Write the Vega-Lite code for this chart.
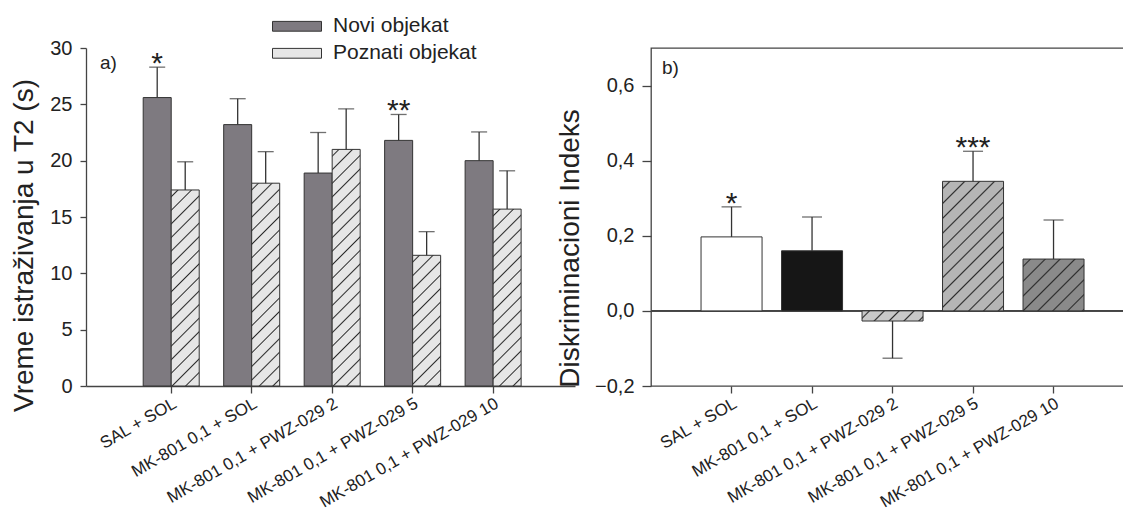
{
"$schema":"https://vega.github.io/schema/vega-lite/v6.json",
"autosize":"none",
"padding":{"left":86,"top":48,"right":1037,"bottom":467},
"bounds":"flush",
"spacing":76,
"config":{"font":"Liberation Sans","view":{"stroke":null},"axis":{"grid":false,"labelColor":"#222","titleColor":"#222","tickColor":"#444","domainColor":"#444","titleFontWeight":"normal","domainWidth":1.3,"tickWidth":1.3}},
"hconcat":[
{
"width":489,"height":338,
"view":{"stroke":null},
"title":{"text":"a)","anchor":"start","frame":"group","orient":"top","dx":14,"offset":-50,"fontSize":19,"fontWeight":"normal","color":"#222","baseline":"alphabetic"},
"data":{"values":[
{"grp":"SAL + SOL","obj":"Novi objekat","val":25.6,"err":28.3,"star":"*"},
{"grp":"SAL + SOL","obj":"Poznati objekat","val":17.4,"err":19.9,"star":""},
{"grp":"MK-801 0,1 + SOL","obj":"Novi objekat","val":23.2,"err":25.5,"star":""},
{"grp":"MK-801 0,1 + SOL","obj":"Poznati objekat","val":18.0,"err":20.8,"star":""},
{"grp":"MK-801 0,1 + PWZ-029 2","obj":"Novi objekat","val":18.9,"err":22.5,"star":""},
{"grp":"MK-801 0,1 + PWZ-029 2","obj":"Poznati objekat","val":21.0,"err":24.6,"star":""},
{"grp":"MK-801 0,1 + PWZ-029 5","obj":"Novi objekat","val":21.8,"err":24.1,"star":"**"},
{"grp":"MK-801 0,1 + PWZ-029 5","obj":"Poznati objekat","val":11.6,"err":13.7,"star":""},
{"grp":"MK-801 0,1 + PWZ-029 10","obj":"Novi objekat","val":20.0,"err":22.55,"star":""},
{"grp":"MK-801 0,1 + PWZ-029 10","obj":"Poznati objekat","val":15.7,"err":19.1,"star":""}
]},
"encoding":{
"x":{"field":"grp","type":"nominal","sort":null,"scale":{"domain":["SAL + SOL","MK-801 0,1 + SOL","MK-801 0,1 + PWZ-029 2","MK-801 0,1 + PWZ-029 5","MK-801 0,1 + PWZ-029 10"],"paddingInner":0.304,"paddingOuter":0.69,"align":0.515},"axis":{"title":null,"labelAngle":-30,"labelAlign":"right","labelBaseline":"top","labelFontSize":17,"labelLimit":400,"tickSize":7,"labelPadding":2}},
"xOffset":{"field":"obj","type":"nominal","scale":{"domain":["Novi objekat","Poznati objekat"]}},
"y":{"field":"val","type":"quantitative","scale":{"domain":[0,30],"nice":false},"axis":{"title":"Vreme istraživanja u T2 (s)","values":[0,5,10,15,20,25,30],"labelFontSize":20,"tickSize":6,"labelPadding":8,"titleFontSize":28,"titleX":-62,"titleY":197,"titleBaseline":"middle","titleAlign":"center","titleAngle":270}}
},
"layer":[
{"mark":{"type":"bar","stroke":"#333","strokeWidth":1},
"encoding":{"fill":{"field":"obj","type":"nominal","scale":{"domain":["Novi objekat","Poznati objekat"],"range":["#7e7a80","#e6e6e6"]},
"legend":{"title":null,"orient":"none","legendX":186,"legendY":-32.7,"direction":"vertical","symbolType":"M-1,-0.2L1,-0.2L1,0.2L-1,0.2Z","symbolSize":2401,"symbolStrokeColor":"#333","symbolStrokeWidth":1,"labelFontSize":21,"labelOffset":11,"labelColor":"#222","clipHeight":22,"rowPadding":5,"padding":0,
"encode":{"symbols":{"update":{"stroke":{"value":"#333"},"strokeWidth":{"value":1}}}}},
"condition":[
{"test":"datum.obj === 'Poznati objekat' && datum.grp === 'SAL + SOL'","value":{"gradient":"linear","x1":0,"y1":0,"x2":0.2036,"y2":1.4255,"stops":[
{"offset":0.0188,"color":"#e6e6e6"},{"offset":0.0238,"color":"#2b2b2b"},{"offset":0.0288,"color":"#e6e6e6"},
{"offset":0.0664,"color":"#e6e6e6"},{"offset":0.0714,"color":"#2b2b2b"},{"offset":0.0764,"color":"#e6e6e6"},
{"offset":0.114,"color":"#e6e6e6"},{"offset":0.119,"color":"#2b2b2b"},{"offset":0.124,"color":"#e6e6e6"},
{"offset":0.1617,"color":"#e6e6e6"},{"offset":0.1667,"color":"#2b2b2b"},{"offset":0.1717,"color":"#e6e6e6"},
{"offset":0.2093,"color":"#e6e6e6"},{"offset":0.2143,"color":"#2b2b2b"},{"offset":0.2193,"color":"#e6e6e6"},
{"offset":0.2569,"color":"#e6e6e6"},{"offset":0.2619,"color":"#2b2b2b"},{"offset":0.2669,"color":"#e6e6e6"},
{"offset":0.3045,"color":"#e6e6e6"},{"offset":0.3095,"color":"#2b2b2b"},{"offset":0.3145,"color":"#e6e6e6"},
{"offset":0.3521,"color":"#e6e6e6"},{"offset":0.3571,"color":"#2b2b2b"},{"offset":0.3621,"color":"#e6e6e6"},
{"offset":0.3998,"color":"#e6e6e6"},{"offset":0.4048,"color":"#2b2b2b"},{"offset":0.4098,"color":"#e6e6e6"},
{"offset":0.4474,"color":"#e6e6e6"},{"offset":0.4524,"color":"#2b2b2b"},{"offset":0.4574,"color":"#e6e6e6"},
{"offset":0.495,"color":"#e6e6e6"},{"offset":0.5,"color":"#2b2b2b"},{"offset":0.505,"color":"#e6e6e6"},
{"offset":0.5426,"color":"#e6e6e6"},{"offset":0.5476,"color":"#2b2b2b"},{"offset":0.5526,"color":"#e6e6e6"},
{"offset":0.5902,"color":"#e6e6e6"},{"offset":0.5952,"color":"#2b2b2b"},{"offset":0.6002,"color":"#e6e6e6"},
{"offset":0.6379,"color":"#e6e6e6"},{"offset":0.6429,"color":"#2b2b2b"},{"offset":0.6479,"color":"#e6e6e6"},
{"offset":0.6855,"color":"#e6e6e6"},{"offset":0.6905,"color":"#2b2b2b"},{"offset":0.6955,"color":"#e6e6e6"},
{"offset":0.7331,"color":"#e6e6e6"},{"offset":0.7381,"color":"#2b2b2b"},{"offset":0.7431,"color":"#e6e6e6"},
{"offset":0.7807,"color":"#e6e6e6"},{"offset":0.7857,"color":"#2b2b2b"},{"offset":0.7907,"color":"#e6e6e6"}]}},
{"test":"datum.obj === 'Poznati objekat' && datum.grp === 'MK-801 0,1 + SOL'","value":{"gradient":"linear","x1":0,"y1":0,"x2":0.1905,"y2":1.3795,"stops":[
{"offset":0.0188,"color":"#e6e6e6"},{"offset":0.0238,"color":"#2b2b2b"},{"offset":0.0288,"color":"#e6e6e6"},
{"offset":0.0664,"color":"#e6e6e6"},{"offset":0.0714,"color":"#2b2b2b"},{"offset":0.0764,"color":"#e6e6e6"},
{"offset":0.114,"color":"#e6e6e6"},{"offset":0.119,"color":"#2b2b2b"},{"offset":0.124,"color":"#e6e6e6"},
{"offset":0.1617,"color":"#e6e6e6"},{"offset":0.1667,"color":"#2b2b2b"},{"offset":0.1717,"color":"#e6e6e6"},
{"offset":0.2093,"color":"#e6e6e6"},{"offset":0.2143,"color":"#2b2b2b"},{"offset":0.2193,"color":"#e6e6e6"},
{"offset":0.2569,"color":"#e6e6e6"},{"offset":0.2619,"color":"#2b2b2b"},{"offset":0.2669,"color":"#e6e6e6"},
{"offset":0.3045,"color":"#e6e6e6"},{"offset":0.3095,"color":"#2b2b2b"},{"offset":0.3145,"color":"#e6e6e6"},
{"offset":0.3521,"color":"#e6e6e6"},{"offset":0.3571,"color":"#2b2b2b"},{"offset":0.3621,"color":"#e6e6e6"},
{"offset":0.3998,"color":"#e6e6e6"},{"offset":0.4048,"color":"#2b2b2b"},{"offset":0.4098,"color":"#e6e6e6"},
{"offset":0.4474,"color":"#e6e6e6"},{"offset":0.4524,"color":"#2b2b2b"},{"offset":0.4574,"color":"#e6e6e6"},
{"offset":0.495,"color":"#e6e6e6"},{"offset":0.5,"color":"#2b2b2b"},{"offset":0.505,"color":"#e6e6e6"},
{"offset":0.5426,"color":"#e6e6e6"},{"offset":0.5476,"color":"#2b2b2b"},{"offset":0.5526,"color":"#e6e6e6"},
{"offset":0.5902,"color":"#e6e6e6"},{"offset":0.5952,"color":"#2b2b2b"},{"offset":0.6002,"color":"#e6e6e6"},
{"offset":0.6379,"color":"#e6e6e6"},{"offset":0.6429,"color":"#2b2b2b"},{"offset":0.6479,"color":"#e6e6e6"},
{"offset":0.6855,"color":"#e6e6e6"},{"offset":0.6905,"color":"#2b2b2b"},{"offset":0.6955,"color":"#e6e6e6"},
{"offset":0.7331,"color":"#e6e6e6"},{"offset":0.7381,"color":"#2b2b2b"},{"offset":0.7431,"color":"#e6e6e6"},
{"offset":0.7807,"color":"#e6e6e6"},{"offset":0.7857,"color":"#2b2b2b"},{"offset":0.7907,"color":"#e6e6e6"}]}},
{"test":"datum.obj === 'Poznati objekat' && datum.grp === 'MK-801 0,1 + PWZ-029 2'","value":{"gradient":"linear","x1":0,"y1":0,"x2":0.1406,"y2":1.1884,"stops":[
{"offset":0.0188,"color":"#e6e6e6"},{"offset":0.0238,"color":"#2b2b2b"},{"offset":0.0288,"color":"#e6e6e6"},
{"offset":0.0664,"color":"#e6e6e6"},{"offset":0.0714,"color":"#2b2b2b"},{"offset":0.0764,"color":"#e6e6e6"},
{"offset":0.114,"color":"#e6e6e6"},{"offset":0.119,"color":"#2b2b2b"},{"offset":0.124,"color":"#e6e6e6"},
{"offset":0.1617,"color":"#e6e6e6"},{"offset":0.1667,"color":"#2b2b2b"},{"offset":0.1717,"color":"#e6e6e6"},
{"offset":0.2093,"color":"#e6e6e6"},{"offset":0.2143,"color":"#2b2b2b"},{"offset":0.2193,"color":"#e6e6e6"},
{"offset":0.2569,"color":"#e6e6e6"},{"offset":0.2619,"color":"#2b2b2b"},{"offset":0.2669,"color":"#e6e6e6"},
{"offset":0.3045,"color":"#e6e6e6"},{"offset":0.3095,"color":"#2b2b2b"},{"offset":0.3145,"color":"#e6e6e6"},
{"offset":0.3521,"color":"#e6e6e6"},{"offset":0.3571,"color":"#2b2b2b"},{"offset":0.3621,"color":"#e6e6e6"},
{"offset":0.3998,"color":"#e6e6e6"},{"offset":0.4048,"color":"#2b2b2b"},{"offset":0.4098,"color":"#e6e6e6"},
{"offset":0.4474,"color":"#e6e6e6"},{"offset":0.4524,"color":"#2b2b2b"},{"offset":0.4574,"color":"#e6e6e6"},
{"offset":0.495,"color":"#e6e6e6"},{"offset":0.5,"color":"#2b2b2b"},{"offset":0.505,"color":"#e6e6e6"},
{"offset":0.5426,"color":"#e6e6e6"},{"offset":0.5476,"color":"#2b2b2b"},{"offset":0.5526,"color":"#e6e6e6"},
{"offset":0.5902,"color":"#e6e6e6"},{"offset":0.5952,"color":"#2b2b2b"},{"offset":0.6002,"color":"#e6e6e6"},
{"offset":0.6379,"color":"#e6e6e6"},{"offset":0.6429,"color":"#2b2b2b"},{"offset":0.6479,"color":"#e6e6e6"},
{"offset":0.6855,"color":"#e6e6e6"},{"offset":0.6905,"color":"#2b2b2b"},{"offset":0.6955,"color":"#e6e6e6"},
{"offset":0.7331,"color":"#e6e6e6"},{"offset":0.7381,"color":"#2b2b2b"},{"offset":0.7431,"color":"#e6e6e6"},
{"offset":0.7807,"color":"#e6e6e6"},{"offset":0.7857,"color":"#2b2b2b"},{"offset":0.7907,"color":"#e6e6e6"},
{"offset":0.8283,"color":"#e6e6e6"},{"offset":0.8333,"color":"#2b2b2b"},{"offset":0.8383,"color":"#e6e6e6"},
{"offset":0.876,"color":"#e6e6e6"},{"offset":0.881,"color":"#2b2b2b"},{"offset":0.886,"color":"#e6e6e6"},
{"offset":0.9236,"color":"#e6e6e6"},{"offset":0.9286,"color":"#2b2b2b"},{"offset":0.9336,"color":"#e6e6e6"}]}},
{"test":"datum.obj === 'Poznati objekat' && datum.grp === 'MK-801 0,1 + PWZ-029 5'","value":{"gradient":"linear","x1":0,"y1":0,"x2":0.4468,"y2":2.0856,"stops":[
{"offset":0.0188,"color":"#e6e6e6"},{"offset":0.0238,"color":"#2b2b2b"},{"offset":0.0288,"color":"#e6e6e6"},
{"offset":0.0664,"color":"#e6e6e6"},{"offset":0.0714,"color":"#2b2b2b"},{"offset":0.0764,"color":"#e6e6e6"},
{"offset":0.114,"color":"#e6e6e6"},{"offset":0.119,"color":"#2b2b2b"},{"offset":0.124,"color":"#e6e6e6"},
{"offset":0.1617,"color":"#e6e6e6"},{"offset":0.1667,"color":"#2b2b2b"},{"offset":0.1717,"color":"#e6e6e6"},
{"offset":0.2093,"color":"#e6e6e6"},{"offset":0.2143,"color":"#2b2b2b"},{"offset":0.2193,"color":"#e6e6e6"},
{"offset":0.2569,"color":"#e6e6e6"},{"offset":0.2619,"color":"#2b2b2b"},{"offset":0.2669,"color":"#e6e6e6"},
{"offset":0.3045,"color":"#e6e6e6"},{"offset":0.3095,"color":"#2b2b2b"},{"offset":0.3145,"color":"#e6e6e6"},
{"offset":0.3521,"color":"#e6e6e6"},{"offset":0.3571,"color":"#2b2b2b"},{"offset":0.3621,"color":"#e6e6e6"},
{"offset":0.3998,"color":"#e6e6e6"},{"offset":0.4048,"color":"#2b2b2b"},{"offset":0.4098,"color":"#e6e6e6"},
{"offset":0.4474,"color":"#e6e6e6"},{"offset":0.4524,"color":"#2b2b2b"},{"offset":0.4574,"color":"#e6e6e6"},
{"offset":0.495,"color":"#e6e6e6"},{"offset":0.5,"color":"#2b2b2b"},{"offset":0.505,"color":"#e6e6e6"},
{"offset":0.5426,"color":"#e6e6e6"},{"offset":0.5476,"color":"#2b2b2b"},{"offset":0.5526,"color":"#e6e6e6"}]}},
{"test":"datum.obj === 'Poznati objekat' && datum.grp === 'MK-801 0,1 + PWZ-029 10'","value":{"gradient":"linear","x1":0,"y1":0,"x2":0.2489,"y2":1.5723,"stops":[
{"offset":0.0188,"color":"#e6e6e6"},{"offset":0.0238,"color":"#2b2b2b"},{"offset":0.0288,"color":"#e6e6e6"},
{"offset":0.0664,"color":"#e6e6e6"},{"offset":0.0714,"color":"#2b2b2b"},{"offset":0.0764,"color":"#e6e6e6"},
{"offset":0.114,"color":"#e6e6e6"},{"offset":0.119,"color":"#2b2b2b"},{"offset":0.124,"color":"#e6e6e6"},
{"offset":0.1617,"color":"#e6e6e6"},{"offset":0.1667,"color":"#2b2b2b"},{"offset":0.1717,"color":"#e6e6e6"},
{"offset":0.2093,"color":"#e6e6e6"},{"offset":0.2143,"color":"#2b2b2b"},{"offset":0.2193,"color":"#e6e6e6"},
{"offset":0.2569,"color":"#e6e6e6"},{"offset":0.2619,"color":"#2b2b2b"},{"offset":0.2669,"color":"#e6e6e6"},
{"offset":0.3045,"color":"#e6e6e6"},{"offset":0.3095,"color":"#2b2b2b"},{"offset":0.3145,"color":"#e6e6e6"},
{"offset":0.3521,"color":"#e6e6e6"},{"offset":0.3571,"color":"#2b2b2b"},{"offset":0.3621,"color":"#e6e6e6"},
{"offset":0.3998,"color":"#e6e6e6"},{"offset":0.4048,"color":"#2b2b2b"},{"offset":0.4098,"color":"#e6e6e6"},
{"offset":0.4474,"color":"#e6e6e6"},{"offset":0.4524,"color":"#2b2b2b"},{"offset":0.4574,"color":"#e6e6e6"},
{"offset":0.495,"color":"#e6e6e6"},{"offset":0.5,"color":"#2b2b2b"},{"offset":0.505,"color":"#e6e6e6"},
{"offset":0.5426,"color":"#e6e6e6"},{"offset":0.5476,"color":"#2b2b2b"},{"offset":0.5526,"color":"#e6e6e6"},
{"offset":0.5902,"color":"#e6e6e6"},{"offset":0.5952,"color":"#2b2b2b"},{"offset":0.6002,"color":"#e6e6e6"},
{"offset":0.6379,"color":"#e6e6e6"},{"offset":0.6429,"color":"#2b2b2b"},{"offset":0.6479,"color":"#e6e6e6"},
{"offset":0.6855,"color":"#e6e6e6"},{"offset":0.6905,"color":"#2b2b2b"},{"offset":0.6955,"color":"#e6e6e6"}]}}
]}}},
{"mark":{"type":"rule","color":"#333","strokeWidth":1.3},"encoding":{"y":{"field":"val","type":"quantitative"},"y2":{"field":"err"}}},
{"mark":{"type":"tick","color":"#333","thickness":1.3,"size":16},"encoding":{"y":{"field":"err","type":"quantitative"}}},
{"mark":{"type":"text","fontSize":30,"dy":6,"baseline":"alphabetic","color":"#222"},"encoding":{"y":{"field":"err","type":"quantitative"},"text":{"field":"star"}}}
]
},
{
"width":473,"height":338,
"view":{"stroke":"#444","strokeWidth":1.3},
"title":{"text":"b)","anchor":"start","frame":"group","orient":"top","dx":11,"offset":-45,"fontSize":19,"fontWeight":"normal","color":"#222","baseline":"alphabetic"},
"data":{"values":[
{"grp":"SAL + SOL","val":0.197,"err":0.277,"star":"*"},
{"grp":"MK-801 0,1 + SOL","val":0.16,"err":0.25,"star":""},
{"grp":"MK-801 0,1 + PWZ-029 2","val":-0.027,"err":-0.126,"star":""},
{"grp":"MK-801 0,1 + PWZ-029 5","val":0.345,"err":0.425,"star":"***"},
{"grp":"MK-801 0,1 + PWZ-029 10","val":0.138,"err":0.242,"star":""}
]},
"encoding":{
"y":{"field":"val","type":"quantitative","scale":{"domain":[-0.2,0.7],"nice":false,"zero":false},"axis":{"title":"Diskriminacioni Indeks","values":[-0.2,0,0.2,0.4,0.6],"labelExpr":"replace(format(datum.value,'.1f'),'.',',')","domain":false,"labelFontSize":20,"tickSize":9,"labelPadding":8,"titleFontSize":28,"titleX":-81,"titleY":200,"titleBaseline":"middle","titleAlign":"center","titleAngle":270}}
},
"layer":[
{"mark":{"type":"rule","color":"#444","strokeWidth":1.3},"encoding":{"y":{"datum":0}}},
{"mark":{"type":"bar","stroke":"#333","strokeWidth":1},
"encoding":{
"x":{"field":"grp","type":"nominal","sort":null,"scale":{"domain":["SAL + SOL","MK-801 0,1 + SOL","MK-801 0,1 + PWZ-029 2","MK-801 0,1 + PWZ-029 5","MK-801 0,1 + PWZ-029 10"],"paddingInner":0.242,"paddingOuter":0.559,"align":0.556},"axis":{"title":null,"domain":false,"labelAngle":-30,"labelAlign":"right","labelBaseline":"top","labelFontSize":17,"labelLimit":400,"tickSize":7,"labelPadding":2}},
"fill":{"value":"#ffffff","condition":[
{"test":"datum.grp === 'MK-801 0,1 + SOL'","value":"#161616"},
{"test":"datum.grp === 'MK-801 0,1 + PWZ-029 2'","value":{"gradient":"linear","x1":0,"y1":0,"x2":4.974,"y2":0.8276,"stops":[
{"offset":0.0188,"color":"#c8c8c8"},{"offset":0.0238,"color":"#2b2b2b"},{"offset":0.0288,"color":"#c8c8c8"},
{"offset":0.0664,"color":"#c8c8c8"},{"offset":0.0714,"color":"#2b2b2b"},{"offset":0.0764,"color":"#c8c8c8"},
{"offset":0.114,"color":"#c8c8c8"},{"offset":0.119,"color":"#2b2b2b"},{"offset":0.124,"color":"#c8c8c8"},
{"offset":0.1617,"color":"#c8c8c8"},{"offset":0.1667,"color":"#2b2b2b"},{"offset":0.1717,"color":"#c8c8c8"},
{"offset":0.2093,"color":"#c8c8c8"},{"offset":0.2143,"color":"#2b2b2b"},{"offset":0.2193,"color":"#c8c8c8"}]}},
{"test":"datum.grp === 'MK-801 0,1 + PWZ-029 5'","value":{"gradient":"linear","x1":0,"y1":0,"x2":0.9259,"y2":1.9686,"stops":[
{"offset":0.0188,"color":"#b5b5b5"},{"offset":0.0238,"color":"#2b2b2b"},{"offset":0.0288,"color":"#b5b5b5"},
{"offset":0.0664,"color":"#b5b5b5"},{"offset":0.0714,"color":"#2b2b2b"},{"offset":0.0764,"color":"#b5b5b5"},
{"offset":0.114,"color":"#b5b5b5"},{"offset":0.119,"color":"#2b2b2b"},{"offset":0.124,"color":"#b5b5b5"},
{"offset":0.1617,"color":"#b5b5b5"},{"offset":0.1667,"color":"#2b2b2b"},{"offset":0.1717,"color":"#b5b5b5"},
{"offset":0.2093,"color":"#b5b5b5"},{"offset":0.2143,"color":"#2b2b2b"},{"offset":0.2193,"color":"#b5b5b5"},
{"offset":0.2569,"color":"#b5b5b5"},{"offset":0.2619,"color":"#2b2b2b"},{"offset":0.2669,"color":"#b5b5b5"},
{"offset":0.3045,"color":"#b5b5b5"},{"offset":0.3095,"color":"#2b2b2b"},{"offset":0.3145,"color":"#b5b5b5"},
{"offset":0.3521,"color":"#b5b5b5"},{"offset":0.3571,"color":"#2b2b2b"},{"offset":0.3621,"color":"#b5b5b5"},
{"offset":0.3998,"color":"#b5b5b5"},{"offset":0.4048,"color":"#2b2b2b"},{"offset":0.4098,"color":"#b5b5b5"},
{"offset":0.4474,"color":"#b5b5b5"},{"offset":0.4524,"color":"#2b2b2b"},{"offset":0.4574,"color":"#b5b5b5"},
{"offset":0.495,"color":"#b5b5b5"},{"offset":0.5,"color":"#2b2b2b"},{"offset":0.505,"color":"#b5b5b5"},
{"offset":0.5426,"color":"#b5b5b5"},{"offset":0.5476,"color":"#2b2b2b"},{"offset":0.5526,"color":"#b5b5b5"},
{"offset":0.5902,"color":"#b5b5b5"},{"offset":0.5952,"color":"#2b2b2b"},{"offset":0.6002,"color":"#b5b5b5"}]}},
{"test":"datum.grp === 'MK-801 0,1 + PWZ-029 10'","value":{"gradient":"linear","x1":0,"y1":0,"x2":2.9648,"y2":2.5225,"stops":[
{"offset":0.0188,"color":"#8a8a8a"},{"offset":0.0238,"color":"#2b2b2b"},{"offset":0.0288,"color":"#8a8a8a"},
{"offset":0.0664,"color":"#8a8a8a"},{"offset":0.0714,"color":"#2b2b2b"},{"offset":0.0764,"color":"#8a8a8a"},
{"offset":0.114,"color":"#8a8a8a"},{"offset":0.119,"color":"#2b2b2b"},{"offset":0.124,"color":"#8a8a8a"},
{"offset":0.1617,"color":"#8a8a8a"},{"offset":0.1667,"color":"#2b2b2b"},{"offset":0.1717,"color":"#8a8a8a"},
{"offset":0.2093,"color":"#8a8a8a"},{"offset":0.2143,"color":"#2b2b2b"},{"offset":0.2193,"color":"#8a8a8a"},
{"offset":0.2569,"color":"#8a8a8a"},{"offset":0.2619,"color":"#2b2b2b"},{"offset":0.2669,"color":"#8a8a8a"},
{"offset":0.3045,"color":"#8a8a8a"},{"offset":0.3095,"color":"#2b2b2b"},{"offset":0.3145,"color":"#8a8a8a"},
{"offset":0.3521,"color":"#8a8a8a"},{"offset":0.3571,"color":"#2b2b2b"},{"offset":0.3621,"color":"#8a8a8a"}]}}
]}}},
{"mark":{"type":"rule","color":"#333","strokeWidth":1.3},"encoding":{"x":{"field":"grp","type":"nominal","sort":null,"scale":{"domain":["SAL + SOL","MK-801 0,1 + SOL","MK-801 0,1 + PWZ-029 2","MK-801 0,1 + PWZ-029 5","MK-801 0,1 + PWZ-029 10"]}},"y":{"field":"val","type":"quantitative"},"y2":{"field":"err"}}},
{"mark":{"type":"tick","color":"#333","thickness":1.3,"size":20},"encoding":{"x":{"field":"grp","type":"nominal","sort":null,"scale":{"domain":["SAL + SOL","MK-801 0,1 + SOL","MK-801 0,1 + PWZ-029 2","MK-801 0,1 + PWZ-029 5","MK-801 0,1 + PWZ-029 10"]}},"y":{"field":"err","type":"quantitative"}}},
{"mark":{"type":"text","fontSize":30,"dy":6,"baseline":"alphabetic","color":"#222"},"encoding":{"x":{"field":"grp","type":"nominal","sort":null,"scale":{"domain":["SAL + SOL","MK-801 0,1 + SOL","MK-801 0,1 + PWZ-029 2","MK-801 0,1 + PWZ-029 5","MK-801 0,1 + PWZ-029 10"]}},"y":{"field":"err","type":"quantitative"},"text":{"field":"star"}}}
]
}
]
}
